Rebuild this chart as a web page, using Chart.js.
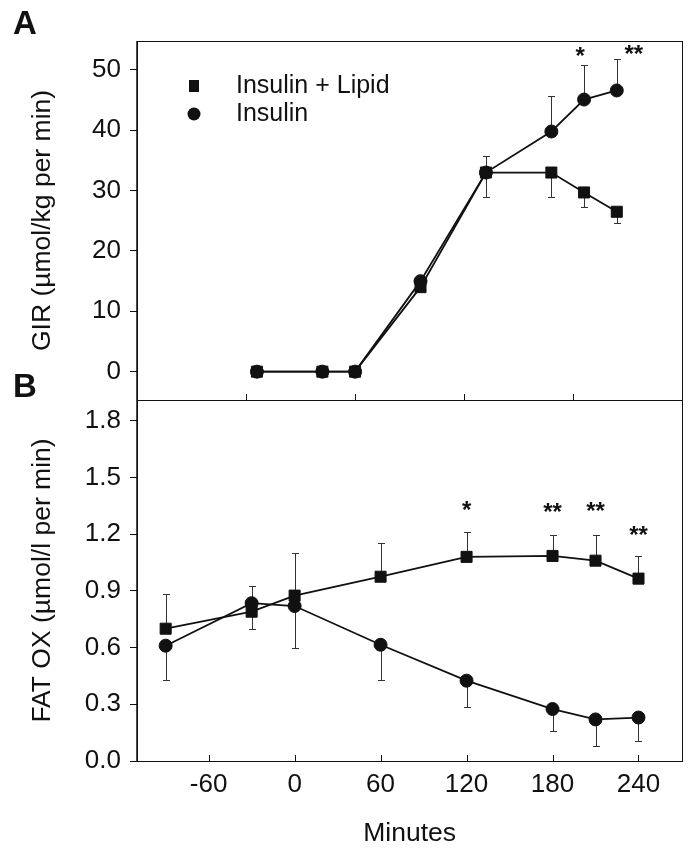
<!DOCTYPE html>
<html>
<head>
<meta charset="utf-8">
<title>GIR and fat oxidation</title>
<script src="https://cdn.jsdelivr.net/npm/chart.js@4.4.0/dist/chart.umd.min.js"></script>
<style>
    body { margin: 0; background: #fff; }
    #wrap { position: relative; width: 691px; height: 850px; }
    #wrap canvas { position: absolute; left: 0; top: 0; }
</style>
</head>
<body>
<div id="wrap">
    <canvas id="chartB" width="691" height="850"></canvas>
    <canvas id="chartA" width="691" height="850"></canvas>
</div>
<script>
// ======= Data =======
const minutes = [-90, -30, 0, 60, 120, 180, 210, 240];
const seriesNames = ['Insulin + Lipid', 'Insulin'];

// panel A - glucose infusion rate
const girLipid = [0, 0, 0, 14.0, 33.0, 33.0, 29.7, 26.5];
const girInsulin = [0, 0, 0, 15.0, 33.0, 39.8, 45.1, 46.6];
const girLipidErrDown = [null, null, null, null, 4.0, 4.0, 2.4, 1.9];
const girInsulinErrUp = [null, null, null, null, 2.8, 5.9, 5.8, 5.2];
const girTicks = [0, 10, 20, 30, 40, 50];
const girTimeTicks = [-100, 0, 100, 200];
const girStarMinutes = [210, 240];
const girStarText = ['*', '**'];

// panel B - fat oxidation
const fatLipid = [0.70, 0.79, 0.875, 0.975, 1.08, 1.085, 1.06, 0.965];
const fatInsulin = [0.61, 0.835, 0.82, 0.615, 0.425, 0.275, 0.22, 0.23];
const fatLipidErrUp = [0.186, null, 0.225, 0.18, 0.13, 0.113, 0.136, 0.122];
const fatLipidErrDown = [null, 0.093, null, null, null, null, null, null];
const fatInsulinErrUp = [null, 0.093, null, null, null, null, null, null];
const fatInsulinErrDown = [0.183, null, 0.223, 0.186, 0.137, 0.115, 0.139, 0.126];
const fatTicks = [0, 0.3, 0.6, 0.9, 1.2, 1.5, 1.8];
const minuteTicks = [-60, 0, 60, 120, 180, 240];
const fatStarMinutes = [120, 180, 210, 240];
const fatStarText = ['*', '**', '**', '**'];

// ======= Shared styling =======
const FONT = '"Liberation Sans", Arial, Helvetica, sans-serif';
const INK = '#111';

const toPoints = values => minutes.map((m, i) => ({ x: m, y: values[i] }));

function makeDataset(label, values, style, radius, errUp, errDown) {
    return {
        label,
        data: toPoints(values),
        borderColor: INK,
        backgroundColor: INK,
        borderWidth: 1.8,
        pointStyle: style,
        pointRadius: radius,
        pointBorderWidth: 1,
        pointBorderColor: INK,
        pointBackgroundColor: INK,
        tension: 0,
        errUp,
        errDown
    };
}

// error bars (one sided, with caps), drawn under the lines
const errorBars = {
    id: 'errorBars',
    beforeDatasetsDraw(chart) {
        const { ctx, scales: { x, y } } = chart;
        ctx.save();
        ctx.strokeStyle = '#333';
        ctx.lineWidth = 1;
        chart.data.datasets.forEach(ds => {
            [['errUp', 1], ['errDown', -1]].forEach(([key, sign]) => {
                const errs = ds[key];
                if (!errs) return;
                errs.forEach((e, i) => {
                    if (e == null) return;
                    const px = Math.round(x.getPixelForValue(ds.data[i].x)) + 0.5;
                    const y0 = y.getPixelForValue(ds.data[i].y);
                    const y1 = Math.round(y.getPixelForValue(ds.data[i].y + sign * e)) + 0.5;
                    ctx.beginPath();
                    ctx.moveTo(px, y0);
                    ctx.lineTo(px, y1);
                    ctx.moveTo(px - 3.5, y1);
                    ctx.lineTo(px + 3.5, y1);
                    ctx.stroke();
                });
            });
        });
        ctx.restore();
    }
};

// box frame, inward x ticks, significance stars, panel letter, legend
const panelDecor = {
    id: 'panelDecor',
    afterDraw(chart, args, opts) {
        const { ctx, chartArea: a, scales: { x, y } } = chart;
        ctx.save();
        ctx.strokeStyle = INK;
        ctx.lineWidth = 1;
        ctx.strokeRect(Math.round(a.left) + 0.5, Math.round(a.top) + 0.5,
            Math.round(a.right - a.left), Math.round(a.bottom - a.top));
        ctx.lineWidth = 1.5;
        ctx.beginPath();
        ctx.moveTo(a.left, a.top);
        ctx.lineTo(a.left, a.bottom);
        ctx.stroke();

        ctx.lineWidth = 1;
        x.ticks.forEach(t => {
            const px = Math.round(x.getPixelForValue(t.value)) + 0.5;
            ctx.beginPath();
            ctx.moveTo(px, a.bottom);
            ctx.lineTo(px, a.bottom - 6);
            ctx.stroke();
        });

        // stars above the upper error bar
        const ds = chart.data.datasets[opts.starSeries];
        ctx.fillStyle = INK;
        ctx.font = 'bold 24px ' + FONT;
        ctx.textAlign = 'center';
        ctx.textBaseline = 'alphabetic';
        opts.starMinutes.forEach((m, k) => {
            const i = minutes.indexOf(m);
            const top = ds.data[i].y + (ds.errUp && ds.errUp[i] ? ds.errUp[i] : 0);
            const cx = x.getPixelForValue(m) + opts.starDx[k];
            const cy = y.getPixelForValue(top) - opts.starGap[k];
            ctx.fillText(opts.starText[k], cx, cy + 10);
        });

        ctx.font = 'bold 33px ' + FONT;
        ctx.textAlign = 'left';
        ctx.textBaseline = 'middle';
        ctx.fillText(opts.letter, 13, opts.letterY);

        if (opts.legend) {
            ctx.font = '25px ' + FONT;
            const rows = [86, 114];
            chart.data.datasets.forEach((d, k) => {
                const cy = rows[k];
                ctx.beginPath();
                if (d.pointStyle === 'rect') {
                    ctx.rect(189, cy - 6, 10, 12);
                } else {
                    ctx.arc(194, cy, 6.5, 0, Math.PI * 2);
                }
                ctx.fill();
                ctx.fillText(d.label, 236, cy);
            });
        }
        ctx.restore();
    }
};

function yAxis(title, ticks, min, max, fmt) {
    return {
        type: 'linear',
        min, max,
        afterBuildTicks: s => { s.ticks = ticks.map(v => ({ value: v })); },
        afterFit: s => { s.width = 137; },
        ticks: {
            color: INK,
            font: { family: FONT, size: 26 },
            padding: 9,
            callback: fmt
        },
        grid: { drawOnChartArea: false, drawTicks: true, tickLength: 7, color: INK },
        border: { display: false },
        title: {
            display: true,
            text: title,
            color: INK,
            font: { family: FONT, size: 26.5 },
            padding: { top: 27, bottom: 0 }
        }
    };
}

// ======= Panel A =======
new Chart(document.getElementById('chartA'), {
    type: 'line',
    data: {
        datasets: [
            makeDataset(seriesNames[0], girLipid, 'rect', 7.8, null, girLipidErrDown),
            makeDataset(seriesNames[1], girInsulin, 'circle', 6.5, girInsulinErrUp, null)
        ]
    },
    options: {
        responsive: false,
        animation: false,
        events: [],
        layout: { padding: { left: 0, top: 41, right: 8, bottom: 450 } },
        plugins: {
            legend: { display: false },
            tooltip: { enabled: false },
            panelDecor: {
                letter: 'A', letterY: 25, legend: true,
                starSeries: 1, starMinutes: girStarMinutes, starText: girStarText,
                starDx: [-4, 17], starGap: [11, 7]
            }
        },
        scales: {
            x: {
                type: 'linear',
                min: -200, max: 300,
                afterBuildTicks: s => { s.ticks = girTimeTicks.map(v => ({ value: v })); },
                afterFit: s => { s.height = 0; },
                ticks: { display: false },
                grid: { display: false },
                border: { display: false }
            },
            y: yAxis('GIR (µmol/kg per min)', girTicks, -4.7, 54.8, v => String(v))
        }
    },
    plugins: [errorBars, panelDecor]
});

// ======= Panel B =======
new Chart(document.getElementById('chartB'), {
    type: 'line',
    data: {
        datasets: [
            makeDataset(seriesNames[0], fatLipid, 'rect', 7.8, fatLipidErrUp, fatLipidErrDown),
            makeDataset(seriesNames[1], fatInsulin, 'circle', 6.5, fatInsulinErrUp, fatInsulinErrDown)
        ]
    },
    options: {
        responsive: false,
        animation: false,
        events: [],
        layout: { padding: { left: 0, top: 400, right: 8, bottom: 0 } },
        plugins: {
            legend: { display: false },
            tooltip: { enabled: false },
            panelDecor: {
                letter: 'B', letterY: 388, legend: false,
                starSeries: 0, starMinutes: fatStarMinutes, starText: fatStarText,
                starDx: [0, 0, 0, 0], starGap: [24, 25, 26, 23]
            }
        },
        scales: {
            x: {
                type: 'linear',
                min: -110, max: 270.5,
                afterBuildTicks: s => { s.ticks = minuteTicks.map(v => ({ value: v })); },
                afterFit: s => { s.height = 89; },
                ticks: {
                    color: INK,
                    font: { family: FONT, size: 26 },
                    padding: 0
                },
                grid: { display: false },
                border: { display: false },
                title: {
                    display: true,
                    text: 'Minutes',
                    color: INK,
                    font: { family: FONT, size: 26.5 },
                    padding: { top: 0, bottom: 0 }
                }
            },
            y: yAxis('FAT OX (µmol/l per min)', fatTicks, 0, 1.91, v => v.toFixed(1))
        }
    },
    plugins: [errorBars, panelDecor]
});
</script>
</body>
</html>
